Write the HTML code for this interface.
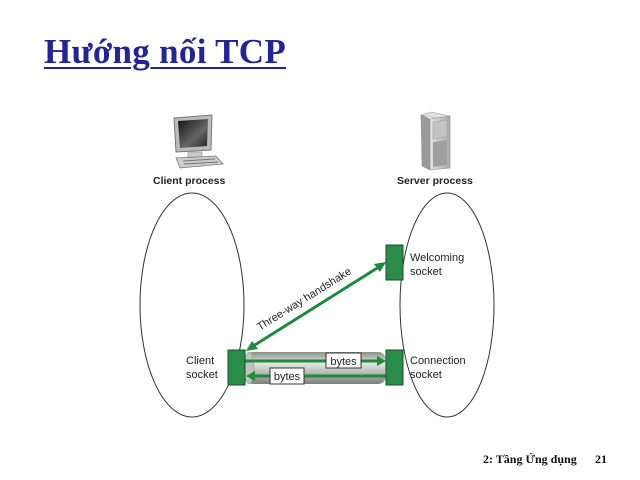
<!DOCTYPE html>
<html><head><meta charset="utf-8"><style>
body{margin:0;width:640px;height:480px;background:#fff;overflow:hidden;position:relative}
.t{position:absolute;font-family:"Liberation Sans","DejaVu Sans",sans-serif;font-size:11px;color:#222}
</style></head><body>
<div style="position:absolute;left:44px;top:32px;font-family:'Liberation Serif',serif;font-weight:bold;font-size:35px;color:#23239a;text-decoration:underline;text-decoration-thickness:2px;text-underline-offset:4px;letter-spacing:0.3px">Hướng nối TCP</div>
<svg width="640" height="480" style="position:absolute;left:0;top:0">
<defs>
<linearGradient id="tube" x1="0" y1="0" x2="0" y2="1">
<stop offset="0" stop-color="#8a8f8a"/><stop offset="0.35" stop-color="#e6e8e6"/><stop offset="1" stop-color="#7d827d"/></linearGradient>
<linearGradient id="scr" x1="0" y1="0" x2="1" y2="1"><stop offset="0" stop-color="#111"/><stop offset="0.6" stop-color="#666"/><stop offset="1" stop-color="#222"/></linearGradient>
<linearGradient id="srv" x1="0" y1="0" x2="1" y2="0"><stop offset="0" stop-color="#e4e4e4"/><stop offset="1" stop-color="#a8a8a8"/></linearGradient>
</defs>
<ellipse cx="192" cy="305" rx="52" ry="112" fill="none" stroke="#333" stroke-width="1"/>
<ellipse cx="447" cy="305" rx="47" ry="112" fill="none" stroke="#333" stroke-width="1"/>
<!-- computer -->
<path d="M174,118 L212,115 L211,150 L176,152 z" fill="#bbb" stroke="#777"/>
<path d="M178,121 L208,119 L207,146 L180,148 z" fill="url(#scr)"/>
<rect x="188" y="152" width="14" height="5" fill="#ccc" stroke="#888" stroke-width="0.5"/>
<path d="M176,158 L216,156 L223,164 L180,168 z" fill="#ccc" stroke="#777" stroke-width="0.7"/>
<line x1="183" y1="161" x2="215" y2="159" stroke="#777"/><line x1="184" y1="164" x2="218" y2="162" stroke="#777"/>
<!-- server -->
<path d="M421,115 L431,112 L450,116 L440,119 z" fill="#e0e0e0" stroke="#999" stroke-width="0.5"/>
<path d="M421,115 L430,119 L430,170 L422,166 z" fill="#9a9a9a" stroke="#888" stroke-width="0.5"/>
<path d="M430,119 L450,116 L450,168 L430,170 z" fill="url(#srv)" stroke="#888" stroke-width="0.5"/>
<path d="M433,122 L447,120 L447,137 L433,139 z" fill="#c4c4c4" stroke="#999" stroke-width="0.5"/>
<path d="M433,142 L447,140 L447,165 L433,167 z" fill="#a0a0a0"/>
<!-- tube -->
<rect x="245" y="352" width="141" height="32" rx="8" fill="url(#tube)"/>
<ellipse cx="249" cy="368" rx="5" ry="16" fill="#bfc3bf" stroke="#888" stroke-width="0.5"/>
<!-- handshake -->
<line x1="250" y1="348" x2="382" y2="265" stroke="#1d8a3c" stroke-width="3"/>
<path d="M386,262 L374,264 L380,272 z" fill="#1d8a3c"/>
<path d="M246,351 L258,349 L252,341 z" fill="#1d8a3c"/>
<!-- bytes arrows -->
<line x1="245" y1="361" x2="378" y2="361" stroke="#1d8a3c" stroke-width="3"/>
<path d="M386,361 L377,356 L377,366 z" fill="#1d8a3c"/>
<line x1="386" y1="376" x2="255" y2="376" stroke="#1d8a3c" stroke-width="3"/>
<path d="M246,376 L255,371 L255,381 z" fill="#1d8a3c"/>
<rect x="326" y="353" width="35" height="15" fill="#fff" stroke="#333"/>
<rect x="270" y="368" width="34" height="16" fill="#fff" stroke="#333"/>
<text x="343.5" y="365" font-family="Liberation Sans,sans-serif" font-size="11" text-anchor="middle" fill="#222">bytes</text>
<text x="287" y="380" font-family="Liberation Sans,sans-serif" font-size="11" text-anchor="middle" fill="#222">bytes</text>
<!-- sockets -->
<rect x="228" y="350" width="17" height="35" fill="#2a8c4a" stroke="#17502a"/>
<rect x="386" y="350" width="17" height="35" fill="#2a8c4a" stroke="#17502a"/>
<rect x="386" y="245" width="17" height="35" fill="#2a8c4a" stroke="#17502a"/>
<text x="306" y="302" font-family="Liberation Sans,sans-serif" font-size="11" text-anchor="middle" fill="#222" transform="rotate(-32 306 302)">Three-way handshake</text>
</svg>
<div class="t" style="left:153px;top:175px;font-weight:bold;font-size:10.5px">Client process</div>
<div class="t" style="left:397px;top:175px;font-weight:bold;font-size:10.5px">Server process</div>
<div class="t" style="left:410px;top:251px;line-height:14px">Welcoming<br>socket</div>
<div class="t" style="left:410px;top:354px;line-height:14px">Connection<br>socket</div>
<div class="t" style="left:186px;top:354px;line-height:14px;text-align:left">Client<br>socket</div>
<div style="position:absolute;left:483px;top:452px;font-family:'Liberation Serif',serif;font-weight:bold;font-size:12px;color:#111">2: Tầng Ứng dụng</div>
<div style="position:absolute;left:595px;top:452px;font-family:'Liberation Serif',serif;font-weight:bold;font-size:12px;color:#111">21</div>
</body></html>
